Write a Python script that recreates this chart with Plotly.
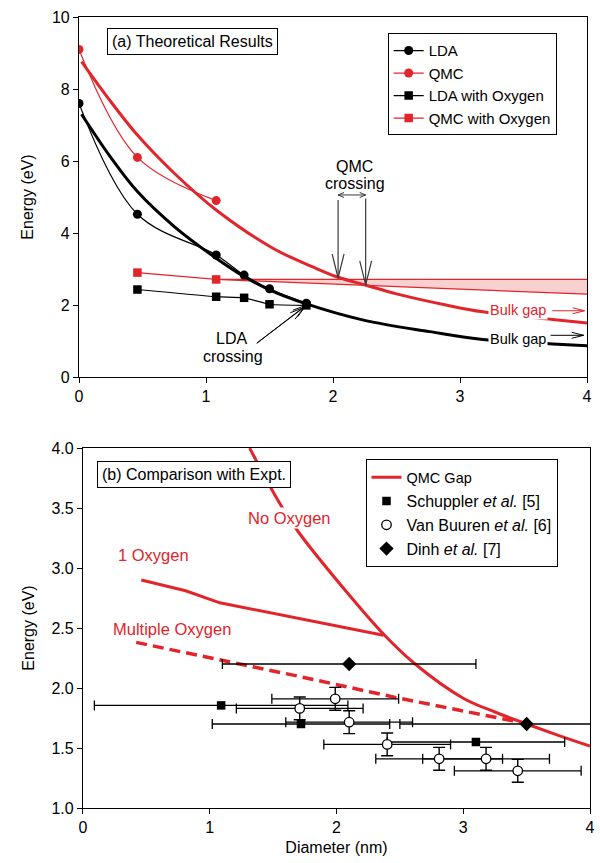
import math
import plotly.graph_objects as go

RED = "#e2242b"
PINK = "#f8d0d0"
GREY = "#3a3a3a"
FONT = "Liberation Sans, Arial, Helvetica, sans-serif"

# ---------------- Panel (a) data ----------------
lda_x = [0.0, 0.46, 1.08, 1.30, 1.50, 1.79]
lda_y = [7.6, 4.52, 3.39, 2.83, 2.45, 2.05]
qmc_x = [0.0, 0.46, 1.08]
qmc_y = [9.1, 6.10, 4.90]
lda_ox_x = [0.46, 1.08, 1.30, 1.50, 1.79]
lda_ox_y = [2.43, 2.23, 2.20, 2.02, 1.99]
qmc_ox_x = [0.46, 1.08]
qmc_ox_y = [2.90, 2.71]
band_x = [1.08, 4.0]
band_upper_y = [2.71, 2.71]
band_lower_y = [2.71, 2.30]
lda_fit_x = [0.02, 0.25, 0.46, 0.75, 1.08, 1.30, 1.50, 1.79, 2.24, 2.76, 3.18, 3.73, 4.0]
lda_fit_y = [7.30, 6.10, 5.15, 4.18, 3.30, 2.79, 2.42, 2.03, 1.58, 1.26, 1.04, 0.92, 0.87]
qmc_fit_x = [0.02, 0.22, 0.46, 0.75, 1.08, 1.53, 1.84, 2.04, 2.26, 2.50, 2.89, 3.18, 3.73, 4.0]
qmc_fit_y = [8.76, 7.79, 6.72, 5.66, 4.64, 3.57, 3.06, 2.77, 2.55, 2.31, 2.00, 1.81, 1.60, 1.50]

# ---------------- Panel (b) data ----------------
no_ox_x = [1.315, 1.54, 1.70, 2.08, 2.37, 2.62, 3.0, 3.25, 3.5, 3.75, 4.0]
no_ox_y = [4.0, 3.56, 3.30, 2.80, 2.45, 2.20, 1.915, 1.80, 1.70, 1.605, 1.515]
one_ox_x = [0.46, 0.81, 1.08, 1.69, 2.37]
one_ox_y = [2.90, 2.81, 2.71, 2.58, 2.44]
multi_ox_x = [0.42, 1.69, 2.47, 3.0, 3.47]
multi_ox_y = [2.38, 2.10, 1.92, 1.81, 1.71]
sch_x = [1.09, 1.72, 3.10]
sch_y = [1.855, 1.70, 1.55]
sch_xerr = [1.0, 0.7, 0.7]
vb_x = [1.99, 1.71, 2.10, 2.40, 2.81, 3.18, 3.43]
vb_y = [1.91, 1.83, 1.715, 1.53, 1.41, 1.41, 1.31]
vb_xerr = [0.5, 0.5, 0.5, 0.5, 0.5, 0.5, 0.5]
vb_yerr = [0.095, 0.095, 0.095, 0.095, 0.095, 0.095, 0.095]
dinh_x = [2.10, 3.50]
dinh_y = [2.20, 1.70]
dinh_xerr = [1.0, 1.0]

W, H = 600, 863
ML, MR, MT, MB = 79, 4, 17, 55
PW, PH = W - ML - MR, H - MT - MB

top_xdom = [0.0, 513 / PW]
bot_xdom = [4 / PW, 516 / PW]
top_ydom = [(808 - 377) / PH, 1.0]
bot_ydom = [0.0, (808 - 448) / PH]

# pixel scales (px per data unit)
SX1 = (top_xdom[1] - top_xdom[0]) * PW / 4.0
SY1 = (top_ydom[1] - top_ydom[0]) * PH / 10.0
SX2 = (bot_xdom[1] - bot_xdom[0]) * PW / 4.0
SY2 = (bot_ydom[1] - bot_ydom[0]) * PH / 3.0

fig = go.Figure()

# ---- panel (a) traces ----
fig.add_trace(go.Scatter(x=band_x, y=band_upper_y, mode="lines", line=dict(color=RED, width=1.2),
                         showlegend=False, xaxis="x", yaxis="y"))
fig.add_trace(go.Scatter(x=band_x, y=band_lower_y, mode="lines", line=dict(color=RED, width=1.2),
                         fill="tonexty", fillcolor=PINK, showlegend=False, xaxis="x", yaxis="y"))
fig.add_trace(go.Scatter(x=qmc_fit_x, y=qmc_fit_y, mode="lines", line=dict(color=RED, width=3, shape="spline"),
                         showlegend=False, xaxis="x", yaxis="y"))
fig.add_trace(go.Scatter(x=lda_fit_x, y=lda_fit_y, mode="lines", line=dict(color="black", width=3, shape="spline"),
                         showlegend=False, xaxis="x", yaxis="y"))
fig.add_trace(go.Scatter(x=lda_x, y=lda_y, mode="lines+markers", name="LDA",
                         line=dict(color="black", width=1.2, shape="spline", smoothing=1.0),
                         marker=dict(symbol="circle", size=9, color="black"), xaxis="x", yaxis="y", legend="legend"))
fig.add_trace(go.Scatter(x=qmc_x, y=qmc_y, mode="lines+markers", name="QMC",
                         line=dict(color=RED, width=1.2, shape="spline", smoothing=1.0),
                         marker=dict(symbol="circle", size=9, color=RED), xaxis="x", yaxis="y", legend="legend"))
fig.add_trace(go.Scatter(x=lda_ox_x, y=lda_ox_y, mode="lines+markers", name="LDA with Oxygen",
                         line=dict(color="black", width=1.2, shape="spline", smoothing=0.6),
                         marker=dict(symbol="square", size=8.5, color="black"), xaxis="x", yaxis="y", legend="legend"))
fig.add_trace(go.Scatter(x=qmc_ox_x, y=qmc_ox_y, mode="lines+markers", name="QMC with Oxygen",
                         line=dict(color=RED, width=1.2),
                         marker=dict(symbol="square", size=8.5, color=RED), xaxis="x", yaxis="y", legend="legend"))

# ---- panel (b) traces ----
fig.add_trace(go.Scatter(x=no_ox_x, y=no_ox_y, mode="lines", name='<span style="font-size:14.5px">QMC Gap</span>',
                         line=dict(color=RED, width=3, shape="spline"), xaxis="x2", yaxis="y2", legend="legend2"))
fig.add_trace(go.Scatter(x=one_ox_x, y=one_ox_y, mode="lines", line=dict(color=RED, width=3),
                         showlegend=False, xaxis="x2", yaxis="y2"))
fig.add_trace(go.Scatter(x=multi_ox_x, y=multi_ox_y, mode="lines", line=dict(color=RED, width=3.5, dash="11px,6px"),
                         showlegend=False, xaxis="x2", yaxis="y2"))
fig.add_trace(go.Scatter(x=sch_x, y=sch_y, mode="markers", name="Schuppler <i>et al.</i> [5]",
                         marker=dict(symbol="square", size=8.5, color="black"),
                         error_x=dict(type="data", array=sch_xerr, color="black", thickness=1.3, width=5),
                         xaxis="x2", yaxis="y2", legend="legend2"))
fig.add_trace(go.Scatter(x=vb_x, y=vb_y, mode="markers", name="Van Buuren <i>et al.</i> [6]",
                         marker=dict(symbol="circle", size=9.5, color="white", line=dict(color="black", width=1.3)),
                         error_x=dict(type="data", array=vb_xerr, color="black", thickness=1.3, width=5),
                         error_y=dict(type="data", array=vb_yerr, color="black", thickness=1.4, width=6),
                         xaxis="x2", yaxis="y2", legend="legend2"))
fig.add_trace(go.Scatter(x=dinh_x, y=dinh_y, mode="markers", name="Dinh <i>et al.</i> [7]",
                         marker=dict(symbol="diamond", size=11, color="black"),
                         error_x=dict(type="data", array=dinh_xerr, color="black", thickness=1.3, width=5),
                         xaxis="x2", yaxis="y2", legend="legend2"))

# ---- arrows drawn as shapes (line + open V head) ----
shapes = []


def add_arrow(x0, y0, x1, y1, xref, yref, sx, sy, color, width, hl, hw, both=False):
    shapes.append(dict(type="line", x0=x0, y0=y0, x1=x1, y1=y1, xref=xref, yref=yref,
                       line=dict(color=color, width=width)))

    def head(tx, ty, fx, fy):
        dx, dy = (tx - fx) * sx, (ty - fy) * sy
        L = math.hypot(dx, dy)
        ux, uy = dx / L, dy / L
        nx, ny = -uy, ux
        bx, by = tx * sx - ux * hl, ty * sy - uy * hl
        p1 = ((bx + nx * hw) / sx, (by + ny * hw) / sy)
        p2 = ((bx - nx * hw) / sx, (by - ny * hw) / sy)
        shapes.append(dict(type="path", path=f"M{p1[0]},{p1[1]} L{tx},{ty} L{p2[0]},{p2[1]}",
                           xref=xref, yref=yref, line=dict(color=color, width=width)))

    head(x1, y1, x0, y0)
    if both:
        head(x0, y0, x1, y1)


# QMC crossing
add_arrow(2.04, 5.056, 2.257, 5.056, "x", "y", SX1, SY1, GREY, 1.0, 6, 2.5, both=True)
add_arrow(2.04, 4.92, 2.04, 2.75, "x", "y", SX1, SY1, GREY, 1.2, 24, 6)
add_arrow(2.257, 4.96, 2.257, 2.56, "x", "y", SX1, SY1, GREY, 1.2, 24, 6)
# LDA crossing
add_arrow(1.40, 0.94, 1.77, 1.93, "x", "y", SX1, SY1, "black", 1.0, 14, 4)
add_arrow(1.40, 0.94, 1.79, 2.00, "x", "y", SX1, SY1, "black", 1.0, 14, 4)
# Bulk gap arrows
add_arrow(3.726, 1.84, 3.98, 1.84, "x", "y", SX1, SY1, RED, 1.0, 12, 3)
add_arrow(3.713, 1.158, 3.973, 1.158, "x", "y", SX1, SY1, "black", 1.0, 12, 3)

ann = []


def text(x, y, s, xref, yref, size=16, color="black", bg=None, **kw):
    d = dict(x=x, y=y, text=s, xref=xref, yref=yref, showarrow=False,
             font=dict(family=FONT, size=size, color=color), xanchor="center", yanchor="middle")
    if bg:
        d["bgcolor"] = bg
    d.update(kw)
    ann.append(d)


text(0.897, 9.33, "(a) Theoretical Results", "x", "y", 16, bgcolor="white",
     bordercolor="black", borderwidth=1, borderpad=4)
text(2.171, 5.842, "QMC", "x", "y", 16)
text(2.171, 5.38, "crossing", "x", "y", 16)
text(1.20, 1.075, "LDA", "x", "y", 16)
text(1.21, 0.564, "crossing", "x", "y", 16)
text(3.453, 1.86, "Bulk gap", "x", "y", 14.5, RED, bg="white")
text(3.453, 1.047, "Bulk gap", "x", "y", 14.5, "black", bg="white")

text(0.877, 3.777, "(b) Comparison with Expt.", "x2", "y2", 16, bgcolor="white",
     bordercolor="black", borderwidth=1, borderpad=4)
text(1.63, 3.42, "No Oxygen", "x2", "y2", 16.5, RED, bg="white")
text(0.554, 3.106, "1 Oxygen", "x2", "y2", 16.5, RED)
text(0.704, 2.495, "Multiple Oxygen", "x2", "y2", 16.5, RED)

axis_common = dict(showline=True, linecolor="black", linewidth=1.2, mirror=True, ticks="outside",
                   ticklen=5, tickwidth=1.2, tickcolor="black", showgrid=False, zeroline=False,
                   tickfont=dict(family=FONT, size=16, color="black"))

fig.update_layout(
    width=W, height=H,
    margin=dict(l=ML, r=MR, t=MT, b=MB),
    paper_bgcolor="white", plot_bgcolor="white",
    font=dict(family=FONT, size=16, color="black"),
    xaxis=dict(domain=top_xdom, range=[0, 4], tickvals=[0, 1, 2, 3, 4], anchor="y", **axis_common),
    yaxis=dict(domain=top_ydom, range=[0, 10], tickvals=[0, 2, 4, 6, 8, 10], anchor="x",
               title=dict(text="Energy (eV)", font=dict(family=FONT, size=16), standoff=14), **axis_common),
    xaxis2=dict(domain=bot_xdom, range=[0, 4], tickvals=[0, 1, 2, 3, 4], anchor="y2",
                title=dict(text="Diameter (nm)", font=dict(family=FONT, size=16), standoff=6), **axis_common),
    yaxis2=dict(domain=bot_ydom, range=[1, 4], tickvals=[1, 1.5, 2, 2.5, 3, 3.5, 4], tickformat=".1f",
                anchor="x2", title=dict(text="Energy (eV)", font=dict(family=FONT, size=16), standoff=12),
                **axis_common),
    legend=dict(x=(390.7 - ML) / PW, y=(808 - 33.3) / PH, xanchor="left", yanchor="top",
                bordercolor="black", borderwidth=1, bgcolor="white", traceorder="normal",
                font=dict(family=FONT, size=15, color="black"), tracegroupgap=0),
    legend2=dict(x=(368.3 - ML) / PW, y=(808 - 459.3) / PH, xanchor="left", yanchor="top",
                 bordercolor="black", borderwidth=1, bgcolor="white", traceorder="normal",
                 font=dict(family=FONT, size=16, color="black"), tracegroupgap=0),
    shapes=shapes,
    annotations=ann,
)

fig.write_html("out.html", config={"displayModeBar": False})
